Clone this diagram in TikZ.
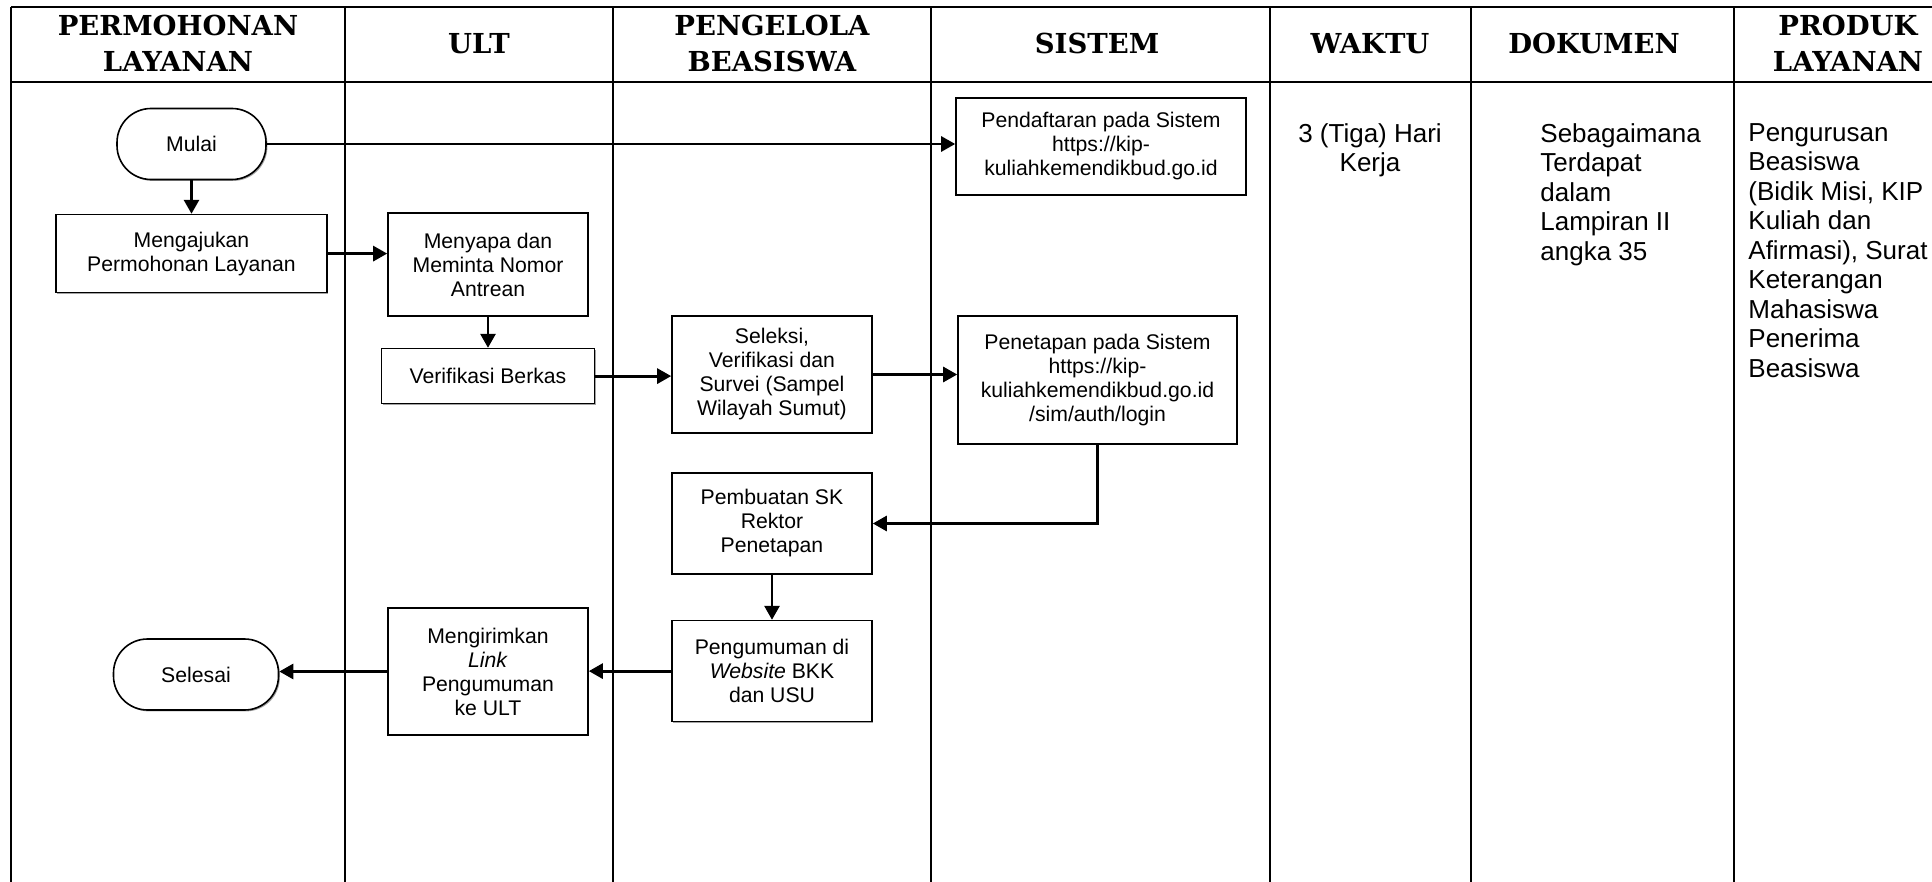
\documentclass[tikz,border=0pt]{standalone}
\usepackage{fontspec}
\setmainfont{Liberation Sans}
\newfontfamily\headfont{DejaVu Serif}
\usepackage{tikz}
\usetikzlibrary{positioning, arrows.meta, shadows}

\begin{document}
\begin{tikzpicture}[
  x=0.5pt, y=-0.5pt,
  font=\fontsize{10.6}{12}\selectfont,
  box/.style={draw, line width=0.8pt, inner sep=0pt, align=center, fill=white,
    drop shadow={shadow xshift=0.7pt, shadow yshift=-0.7pt, fill=black!45, opacity=0.8}},
  proc/.style={box, minimum width=100pt},
  term/.style={box, rounded corners=17pt, minimum height=35.5pt},
  arrow/.style={-{Triangle[length=7pt, width=7.5pt]}, line width=1.4pt},
  lane/.style={line width=1pt},
  rule/.style={line width=1.4pt},
  head/.style={font=\headfont\bfseries\fontsize{13.75}{18.25}\selectfont,
    align=center, inner sep=0pt},
  note/.style={font=\fontsize{13}{14.75}\selectfont, inner sep=0pt},
]
  \useasboundingbox (0,0) rectangle (1932,882);
  \clip (0,0) rectangle (1932,882);

  % table
  \draw[rule] (11,7) -- (2000,7);
  \draw[rule] (11,82) -- (2000,82);
  \foreach \x in {11, 345, 613, 931, 1270, 1471, 1734}
    \draw[lane] (\x,7) -- (\x,882);

  \node[head] (hPemohon) at (178,43.5)  {PERMOHONAN\\LAYANAN};
  \node[head] (hUlt)     at (479,43.5)  {ULT};
  \node[head] (hKelola)  at (772,43.5)  {PENGELOLA\\BEASISWA};
  \node[head] (hSistem)  at (1097,43.5) {SISTEM};
  \node[head] (hWaktu)   at (1370,43.5) {WAKTU};
  \node[head] (hDok)     at (1594,43.5) {DOKUMEN};
  \node[head] (hProduk)  at (1848,43.5) {PRODUK\\LAYANAN};

  % flow
  \node[term, minimum width=74.5pt] (mulai) at (191.5,144) {Mulai};
  \node[proc, minimum width=135.5pt, minimum height=39pt, below=16.75pt of mulai]
    (ajukan) {Mengajukan\\Permohonan Layanan};
  \node[proc, minimum height=51.5pt] (sapa) at (488,264.5)
    {Menyapa dan\\Meminta Nomor\\Antrean};
  \node[proc, minimum width=106.5pt, minimum height=27.5pt, below=15.5pt of sapa]
    (verif) {Verifikasi Berkas};
  \node[proc, minimum width=145pt, minimum height=48.5pt] (daftar) at (1101,146.5)
    {Pendaftaran pada Sistem\\https://kip-\\kuliahkemendikbud.go.id};
  \node[proc, minimum height=58.5pt] (seleksi) at (772,374.5)
    {Seleksi,\\Verifikasi dan\\Survei (Sampel\\Wilayah Sumut)};
  \node[proc, minimum width=139.5pt, minimum height=64pt] (tetap) at (1097.5,380)
    {Penetapan pada Sistem\\https://kip-\\kuliahkemendikbud.go.id\\/sim/auth/login};
  \node[proc, minimum height=50.5pt] (sk) at (772,523.5)
    {Pembuatan SK\\Rektor\\Penetapan};
  \node[proc, minimum height=50.5pt, below=22.5pt of sk] (umum)
    {Pengumuman di\\\textit{Website} BKK\\dan USU};
  \node[proc, minimum height=63.5pt] (kirim) at (488,671.5)
    {Mengirimkan\\\textit{Link}\\Pengumuman\\ke ULT};
  \node[term, minimum width=82.5pt] (selesai) at (196,674.5) {Selesai};

  \foreach \a/\b in {mulai/ajukan, sapa/verif, sk/umum}
    \draw[arrow] (\a) -- (\b);
  \foreach \a/\b in {mulai/daftar, ajukan/sapa, verif/seleksi, seleksi/tetap}
    \draw[arrow] (\a.east) -- (\a.east -| \b.west);
  \foreach \a/\b in {umum/kirim, kirim/selesai}
    \draw[arrow] (\a.west) -- (\a.west -| \b.east);
  \draw[arrow] (tetap.south) |- (sk.east);

  % right columns
  \node[note, anchor=north, align=center] (waktu) at (1370,123)
    {3 (Tiga) Hari\\Kerja};
  \node[note, anchor=north west, align=left] (dok) at (1540,123)
    {Sebagaimana\\Terdapat\\dalam\\Lampiran II\\angka 35};
  \node[note, anchor=north west, align=left] (produk) at (1748,123)
    {Pengurusan\\Beasiswa\\(Bidik Misi, KIP\\Kuliah dan\\Afirmasi), Surat\\Keterangan\\Mahasiswa\\Penerima\\Beasiswa};
\end{tikzpicture}
\end{document}
